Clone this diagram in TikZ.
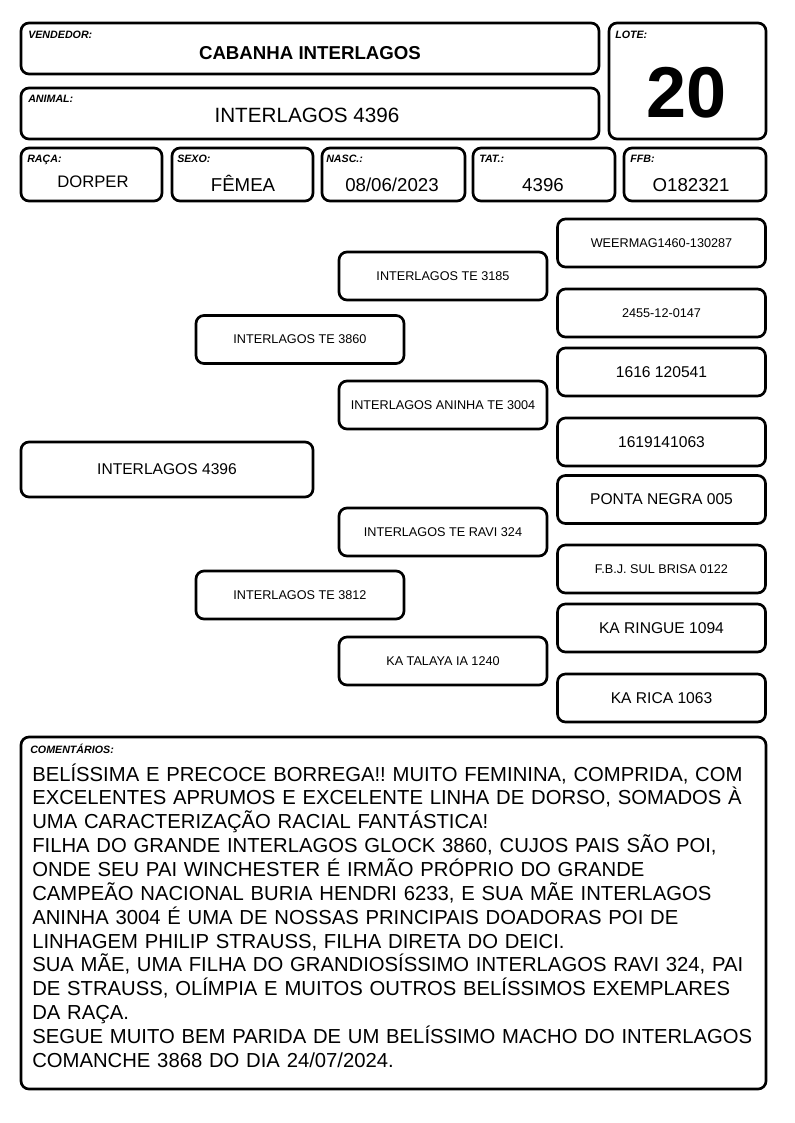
\documentclass[tikz,border=0pt]{standalone}
\usepackage{fontspec}
\setmainfont{Liberation Sans}
\usetikzlibrary{positioning}
\frenchspacing

\begin{document}
\begin{tikzpicture}[x=0.75pt, y=-0.75pt, line cap=round, line join=round]
				\useasboundingbox (0,0) rectangle (794,1123);
				
				% ---- estilos (caixas, rótulos, valores) ----
				\tikzset{campo/.style={draw, line width=2pt, rounded corners=6pt, inner sep=0pt},
					rotulo/.style={anchor=base west, inner sep=0pt,
						font=\fontsize{8}{9}\selectfont\bfseries\itshape},
					valor/.style={anchor=base, inner sep=0pt, font=\fontsize{14}{16}\selectfont},
					ped/.style={campo, minimum width=156pt, minimum height=36pt,
						font=\fontsize{9.5}{11}\selectfont},
					pedG/.style={ped, font=\fontsize{11.7}{13}\selectfont}}
				
				% ---- cabeçalho ----
				\node[campo, minimum width=433.5pt, minimum height=38.25pt] (vend) at (310,48.5) {};
				\node[rotulo] (vendR) at (28,39) {VENDEDOR:};
				\node[valor, font=\fontsize{14}{16}\selectfont\bfseries] (vendV) at (310,60) {CABANHA INTERLAGOS};
				
				\node[campo, minimum width=433.5pt, minimum height=38.25pt] (anim) at (310,113.5) {};
				\node[rotulo] (animR) at (28,103) {ANIMAL:};
				\node[valor, font=\fontsize{15.5}{17}\selectfont] (animV) at (307,123) {INTERLAGOS 4396};
				
				\node[campo, minimum width=117.75pt, minimum height=87pt] (lote) at (687.5,81) {};
				\node[rotulo] (loteR) at (615,39) {LOTE:};
				\node[valor, font=\fontsize{54}{60}\selectfont\bfseries] (loteV) at (687,118) {20};
				
				% ---- linha de dados ----
				\node[campo, minimum width=105.75pt, minimum height=39.75pt] (raca) at (91.5,174.5) {};
				\node[rotulo] (racaR) at (27,163) {RAÇA:};
				\node[valor, font=\fontsize{12.5}{14}\selectfont] (racaV) at (93,188) {DORPER};
				
				\node[campo, minimum width=105.75pt, minimum height=39.75pt] (sexo) at (242.5,174.5) {};
				\node[rotulo] (sexoR) at (177,163) {SEXO:};
				\node[valor] (sexoV) at (243,192) {FÊMEA};
				
				\node[campo, minimum width=107.25pt, minimum height=39.75pt] (nasc) at (393.5,174.5) {};
				\node[rotulo] (nascR) at (326,163) {NASC.:};
				\node[valor] (nascV) at (392,192) {08/06/2023};
				
				\node[campo, minimum width=106.5pt, minimum height=39.75pt] (tat) at (544,174.5) {};
				\node[rotulo] (tatR) at (479,163) {TAT.:};
				\node[valor] (tatV) at (543,192) {4396};
				
				\node[campo, minimum width=106.5pt, minimum height=39.75pt] (ffb) at (695,174.5) {};
				\node[rotulo] (ffbR) at (630,163) {FFB:};
				\node[valor] (ffbV) at (691,192) {O182321};
				
				% ---- genealogia ----
				\node[pedG, minimum width=219pt, minimum height=41.25pt] (p0) at (167,469.5) {INTERLAGOS 4396};
				
				\node[ped] (p1) at (300,339.5) {INTERLAGOS TE 3860};
				\node[ped] (p2) at (300,595) {INTERLAGOS TE 3812};
				
				\node[ped] (p11) at (443,276) {INTERLAGOS TE 3185};
				\node[ped] (p12) at (443,405) {INTERLAGOS ANINHA TE 3004};
				\node[ped] (p21) at (443,532) {INTERLAGOS TE RAVI 324};
				\node[ped] (p22) at (443,661) {KA TALAYA IA 1240};
				
				\node[ped]  (p111) at (661.5,243)   {WEERMAG1460-130287};
				\node[ped]  (p112) at (661.5,313)   {2455-12-0147};
				\node[pedG] (p121) at (661.5,372)   {1616 120541};
				\node[pedG] (p122) at (661.5,442)   {1619141063};
				\node[pedG] (p211) at (661.5,499.5) {PONTA NEGRA 005};
				\node[ped]  (p212) at (661.5,569)   {F.B.J. SUL BRISA 0122};
				\node[pedG] (p221) at (661.5,628)   {KA RINGUE 1094};
				\node[pedG] (p222) at (661.5,698)   {KA RICA 1063};
				
				% ---- comentários ----
				\node[campo, minimum width=558.75pt, minimum height=264pt] (coment) at (393.5,913) {};
				\node[rotulo] (comentR) at (30,753) {COMENTÁRIOS:};
				\node[anchor=base west, inner sep=0pt, text width=552pt, align=left,
				font=\fontsize{15.2}{17.9}\selectfont] (comentT) at (32,781)
				{BELÍSSIMA E PRECOCE BORREGA!! MUITO FEMININA, COMPRIDA, COM\\
					EXCELENTES APRUMOS E EXCELENTE LINHA DE DORSO, SOMADOS À\\
					UMA CARACTERIZAÇÃO RACIAL FANTÁSTICA!\\
					FILHA DO GRANDE INTERLAGOS GLOCK 3860, CUJOS PAIS SÃO POI,\\
					ONDE SEU PAI WINCHESTER É IRMÃO PRÓPRIO DO GRANDE\\
					CAMPEÃO NACIONAL BURIA HENDRI 6233, E SUA MÃE INTERLAGOS\\
					ANINHA 3004 É UMA DE NOSSAS PRINCIPAIS DOADORAS POI DE\\
					LINHAGEM PHILIP STRAUSS, FILHA DIRETA DO DEICI.\\
					SUA MÃE, UMA FILHA DO GRANDIOSÍSSIMO INTERLAGOS RAVI 324, PAI\\
					DE STRAUSS, OLÍMPIA E MUITOS OUTROS BELÍSSIMOS EXEMPLARES\\
					DA RAÇA.\\
					SEGUE MUITO BEM PARIDA DE UM BELÍSSIMO MACHO DO INTERLAGOS\\
					COMANCHE 3868 DO DIA 24/07/2024.};
			\end{tikzpicture}
\end{document}
